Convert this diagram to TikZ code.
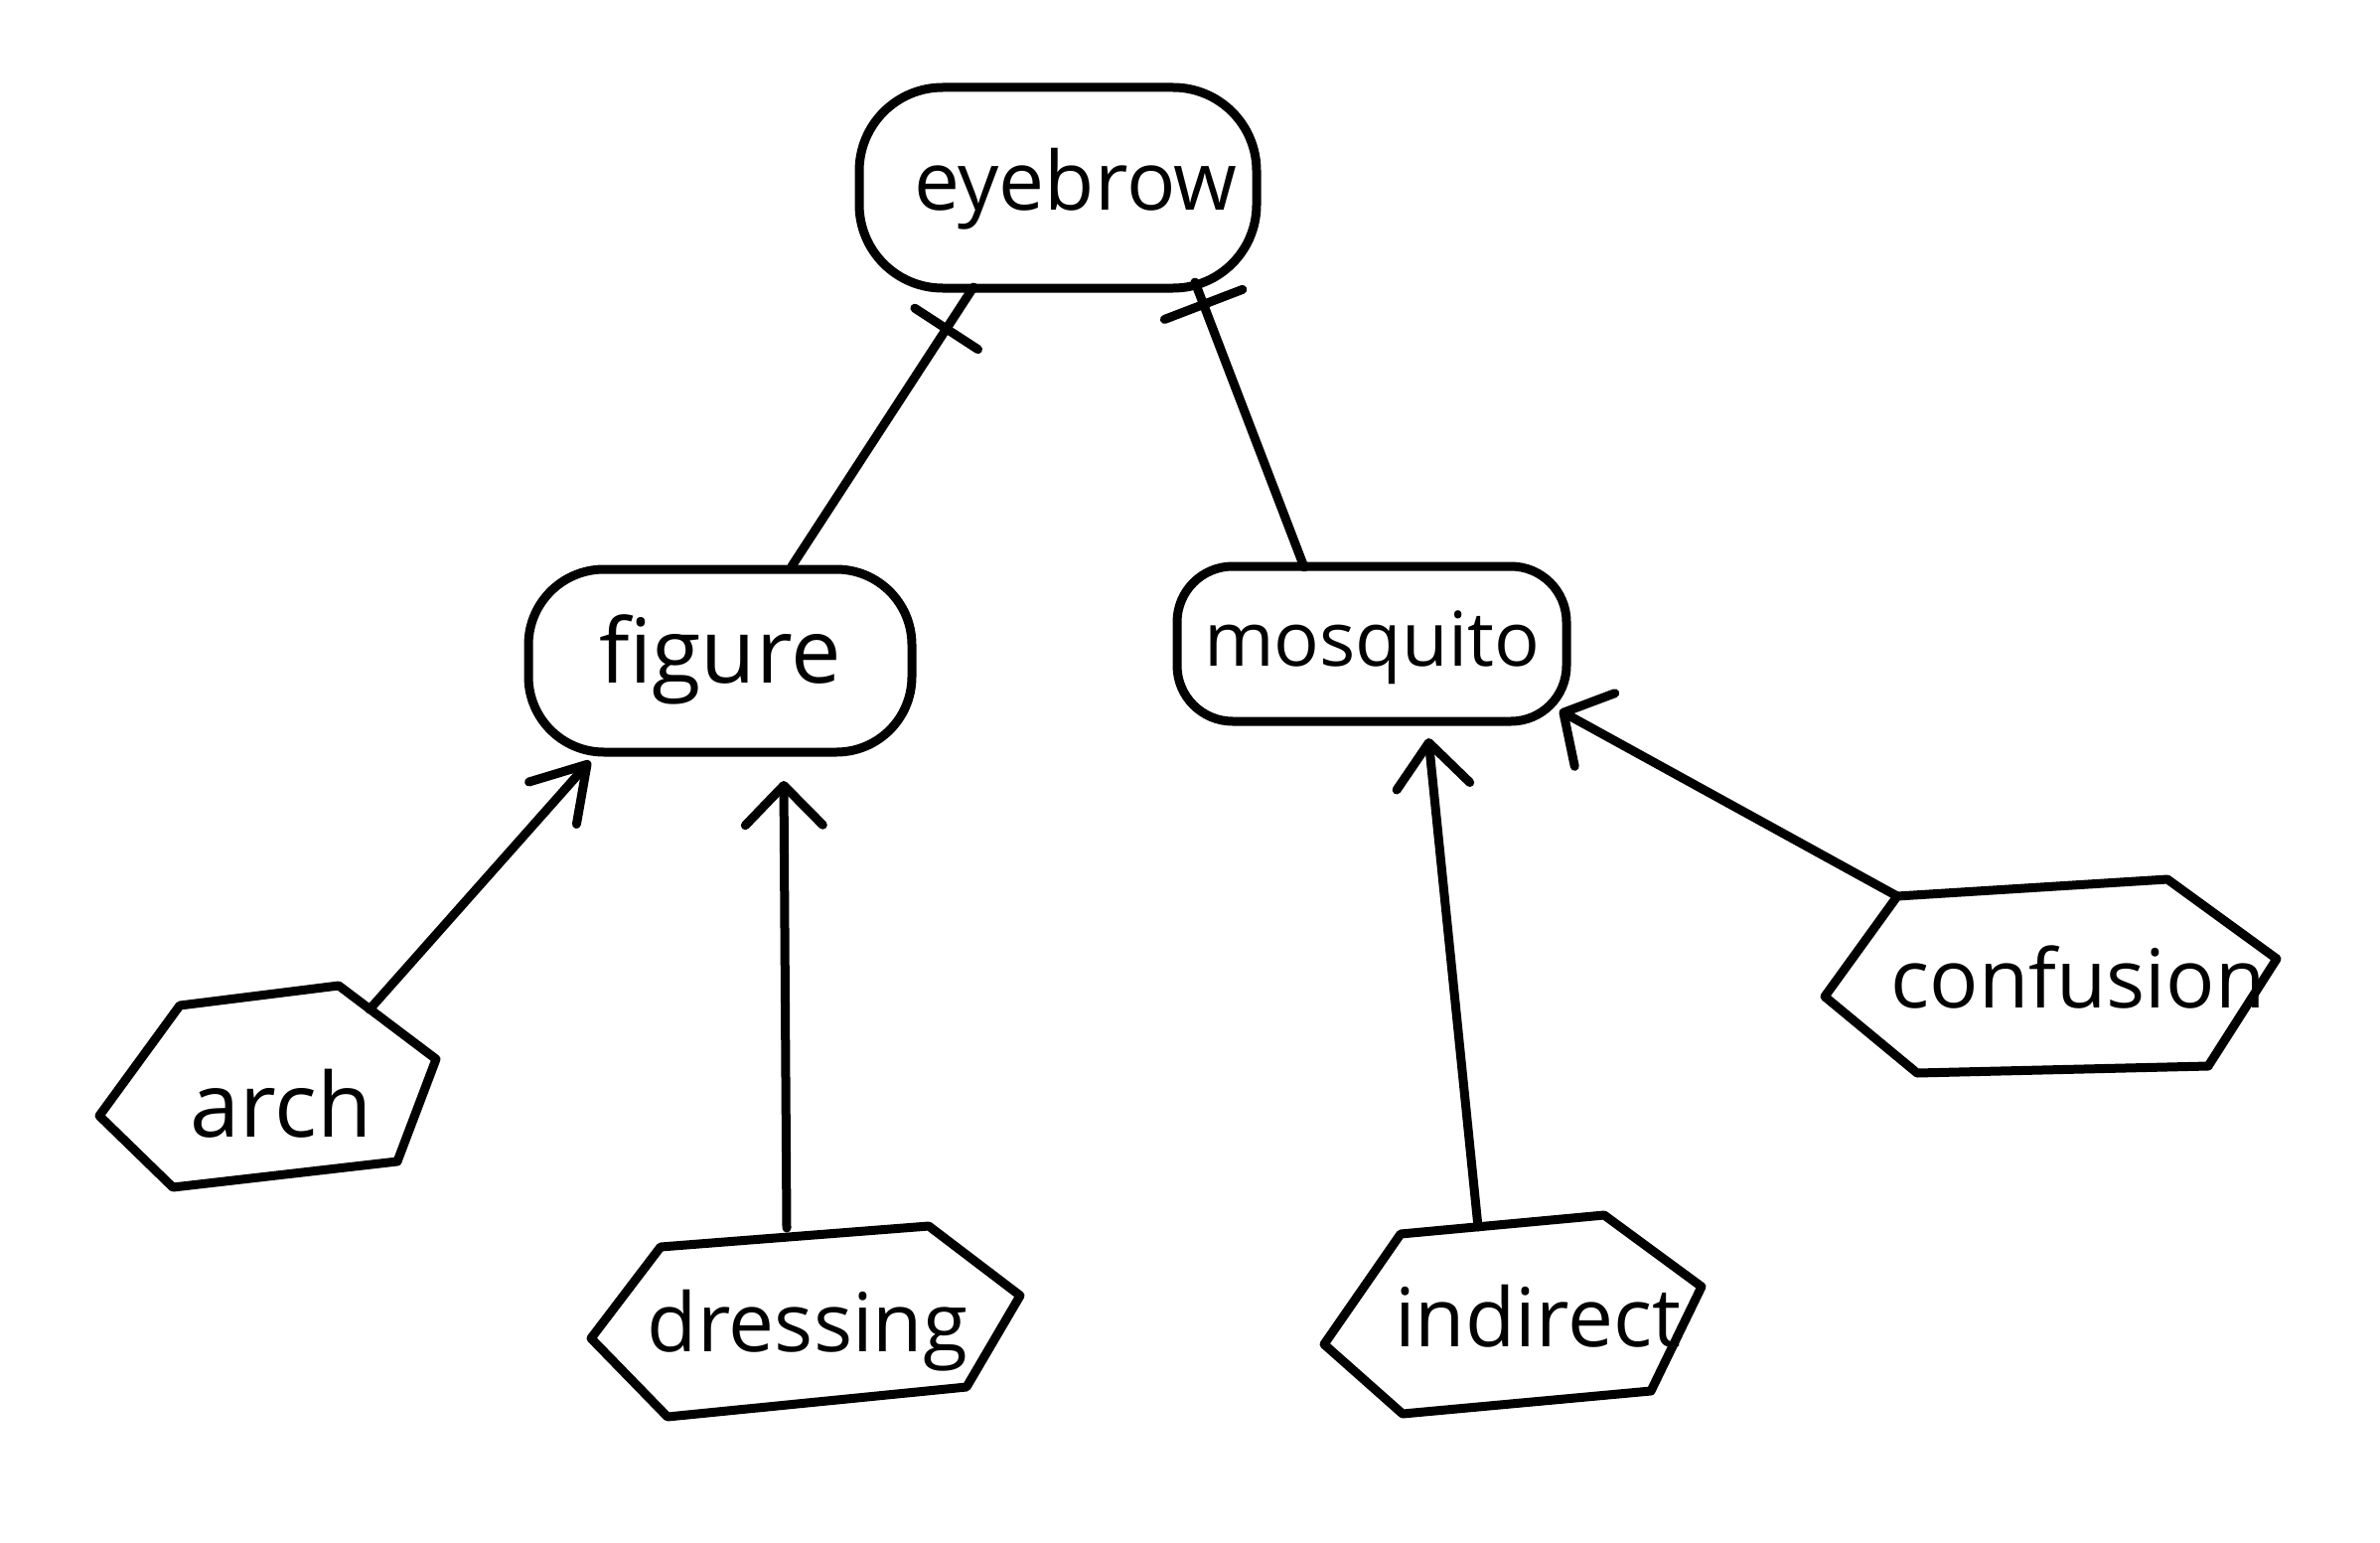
\documentclass[tikz,border=0pt]{standalone}
\usepackage{fontspec}
\setmainfont{Open Sans}
\usetikzlibrary{arrows.meta,decorations.markings}
\begin{document}
\begin{tikzpicture}[x=0.5pt,y=-0.5pt,
  line width=4.5pt, line cap=round, line join=round,
  lbl/.style={font=\fontsize{41}{49}\selectfont, text height=22pt, text depth=0pt, inner sep=0pt},
  bigtxt/.style={font=\fontsize{45}{54}\selectfont},
  smalltxt/.style={font=\fontsize{38}{46}\selectfont},
  rbox/.style={lbl, draw, rectangle},
  arr/.style 2 args={-{Straight Barb[length=#1,width=#2,round]}},
  onebar/.style 2 args={postaction={decorate,decoration={markings,
      mark=at position -#1 with {\draw[line width=4.5pt,line cap=round] (0,-#2) -- (0,#2);}}}}
]
\useasboundingbox (0,0) rectangle (2396,1552);

% rounded boxes
\node[rbox, minimum width=200pt, minimum height=101pt, rounded corners=42pt] (eyebrow) at (1065,189) {\hspace*{18pt}eyebrow};
\node[rbox, bigtxt, minimum width=193pt, minimum height=92pt, rounded corners=38pt] (figure) at (725,665) {figure};
\node[rbox, smalltxt, minimum width=196pt, minimum height=78pt, rounded corners=28pt] (mosquito) at (1381,648) {mosquito};

% hexagon labels
\node[lbl, bigtxt] (arch) at (283,1122) {arch};
\node[lbl] (dressing) at (813,1338) {dressing};
\node[lbl] (indirect) at (1548,1333) {indirect};
\node[lbl] (confusion) at (2092,992) {confusion};

\draw[shift={(arch.center)}] (-183,1) -- (-102,-110) -- (58,-130) -- (156,-56) -- (117,47) -- (-109,73) -- cycle;
\draw[shift={(dressing.center)}] (-218,9) -- (-148,-83) -- (122,-104) -- (214,-34) -- (160,58) -- (-141,88) -- cycle;
\draw[shift={(indirect.center)}] (-215,20) -- (-138,-91) -- (67,-110) -- (165,-38) -- (114,67) -- (-136,90) -- cycle;
\draw[shift={(confusion.center)}] (-255,11) -- (-182,-90) -- (90,-107) -- (200,-27) -- (131,81) -- (-162,88) -- cycle;

% connectors to eyebrow with bars
\draw[onebar={25pt}{19pt}] ([shift={(72,-95)}]figure.center) -- ([shift={(-85,100)}]eyebrow.center);
\draw[onebar={12pt}{21pt}] ([shift={(-68,-77)}]mosquito.center) -- ([shift={(138,95)}]eyebrow.center);

% arrows
\draw[arr={26pt}{32pt}] ([shift={(89,-106)}]arch.center) -- ([shift={(-131,101)}]figure.center);
\draw[arr={20pt}{39pt}] ([shift={(-21,-102)}]dressing.center) -- ([shift={(64,121)}]figure.center);
\draw[arr={22pt}{37pt}] ([shift={(-60,-98)}]indirect.center) -- ([shift={(57,95)}]mosquito.center);
\draw[arr={18pt}{42pt}] ([shift={(-182,-90)}]confusion.center) -- ([shift={(189,67)}]mosquito.center);
\end{tikzpicture}
\end{document}
